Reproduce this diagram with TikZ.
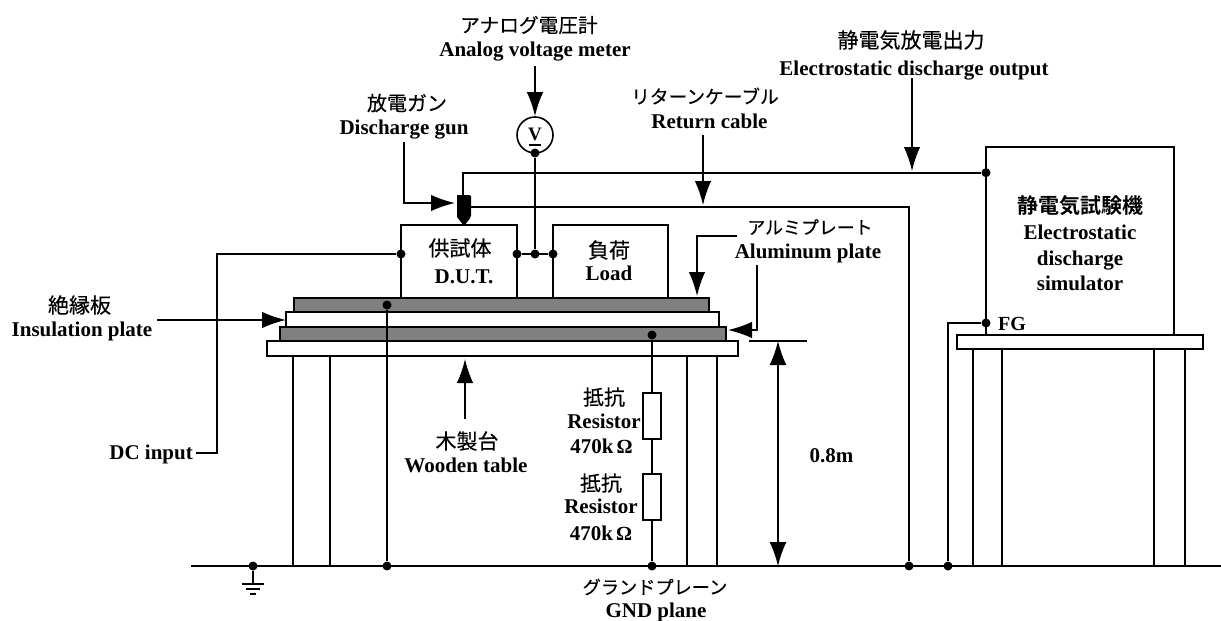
\documentclass[tikz,border=0pt]{standalone}
\usepackage{fontspec}
\setmainfont{Liberation Serif}
\newfontfamily\cjk[FakeBold=0.35]{Noto Sans CJK JP}
\newfontfamily\cjkb{Noto Sans CJK JP Bold}
\usetikzlibrary{arrows.meta,calc}
\tikzset{
  wire/.style={line width=1.6pt},
  leg/.style={line width=1.4pt},
  bighead/.style={-{Latex[length=24pt,width=16.5pt]},line width=1.6pt},
  bothhead/.style={{Latex[length=24pt,width=17pt]}-{Latex[length=24pt,width=17pt]},line width=1.6pt},
  en/.style={font=\bfseries\fontsize{21}{24}\selectfont,anchor=base,inner sep=0pt},
  jpn/.style={font=\cjk\fontsize{#1}{#1}\selectfont,anchor=center,inner sep=0pt},
  dot/.style={circle,fill=black,inner sep=0pt,minimum size=9pt},
  panel/.style={draw,line width=1.6pt,fill=white,anchor=north west,inner sep=0pt,outer sep=0pt},
  gplate/.style={panel,fill=black!50},
  rbox/.style={draw,line width=1.6pt,fill=white,minimum width=18pt,minimum height=46pt,inner sep=0pt},
}
\newcommand{\ohm}{\hspace{3pt}{\fontsize{20}{20}\selectfont Ω}}
\begin{document}
\begin{tikzpicture}[x=1pt,y=-1pt]
\useasboundingbox (0,0) rectangle (1221,621);
% junctions
\node[dot] (dgndA) at (253,566) {};
\node[dot] (dgndB) at (387,566) {};
\node[dot] (dgndC) at (652,566) {};
\node[dot] (dgndD) at (909,566) {};
\node[dot] (dgndE) at (948,566) {};
% ground
\coordinate (gl) at (191,566);
\coordinate (gr) at (1221,566);
\draw[wire] (gl) -- (gr);
\coordinate (gsym) at (253,584);
\draw[wire] (dgndA) -- (gsym);
\draw[wire] ($(gsym)+(-11,0)$) -- ($(gsym)+(11,0)$);
\draw[wire] ($(gsym)+(-7,5)$) -- ($(gsym)+(7,5)$);
\draw[wire] ($(gsym)+(-3,10)$) -- ($(gsym)+(3,10)$);
% boxes
\node[panel,minimum width=116pt,minimum height=73pt] (dut) at (401,225) {};
\node[panel,minimum width=115pt,minimum height=73pt] (load) at (553,225) {};
\node[panel,minimum width=188pt,minimum height=188pt] (sim) at (986,147) {};
% left stack
\node[panel,minimum width=471pt,minimum height=15pt] (tableL) at (267,341) {};
\node[gplate,minimum width=446pt,minimum height=14pt] (plateB) at (280,327) {};
\node[panel,minimum width=433pt,minimum height=15pt] (ins) at (286,312) {};
\node[gplate,minimum width=415pt,minimum height=14pt] (plateA) at (294,298) {};
% right table
\node[panel,minimum width=246pt,minimum height=14pt] (tableR) at (957,335) {};
% legs
\draw[leg] (293,356) -- (293,566) -- (330,566) -- (330,356);
\draw[leg] (687,356) -- (687,566) -- (717,566) -- (717,356);
\draw[leg] (973,349) -- (973,566) -- (1002,566) -- (1002,349);
\draw[leg] (1154,349) -- (1154,566) -- (1185,566) -- (1185,349);
% voltmeter
\node[draw,circle,wire,minimum size=36pt,inner sep=0pt,fill=white] (vm) at (535,135) {};
\node[en,font=\bfseries\fontsize{19}{19}\selectfont] (vlab) at (535,140) {V};
\coordinate (ula) at (529,145);
\coordinate (ulb) at (541,145);
\draw[wire] (ula) -- (ulb);
\node[dot] (vdot) at (535,153) {};
\node[dot] (j1) at (401,254) {};
\node[dot] (j2) at (517,254) {};
\node[dot] (j3) at (535,254) {};
\node[dot] (j4) at (553,254) {};
\draw[wire] (vdot) -- (j3);
\draw[wire] (j2) -- (j4);
% DC input
\node[en,anchor=base east] (dc) at (193,459) {DC input};
\coordinate (dcs) at (196,453);
\coordinate (dcc) at (217,453);
\draw[wire] (dcs) -- (dcc) |- (j1);
% plate leads
\node[dot] (ptop) at (387,305) {};
\draw[wire] (ptop) -- (dgndB);
\node[dot] (pbot) at (652,335) {};
\node[rbox] (r1) at (652,416) {};
\node[rbox] (r2) at (652,497) {};
\draw[wire] (pbot) -- (r1) -- (r2) -- (dgndC);
% gun
\coordinate (gun) at (463,196);
\fill[rounded corners=1.5pt] (457,195) -- (471,195) -- (471,217) [sharp corners] -- (464,226) -- (457,217) -- cycle;
% cables
\node[dot] (simdot) at (986,172.7) {};
\coordinate (cg) at (463,172.7);
\draw[wire] (gun) -- (cg) -- (simdot);
\coordinate (cr) at (471,206.7);
\coordinate (crb) at (909,206.7);
\draw[wire] (cr) -- (crb) -- (dgndD);
\node[dot] (fg) at (986,323) {};
\draw[wire] (fg) -| (dgndE);
\node[en,font=\bfseries\fontsize{20}{20}\selectfont,anchor=base west] (fgl) at (998,330) {FG};
% labels
\node[jpn=19.7] (lv1) at (529,25) {アナログ電圧計};
\node[en] (lv2) at (535,56) {Analog voltage meter};
\node[jpn=21] (les1) at (911,40) {静電気放電出力};
\node[en] (les2) at (914,75) {Electrostatic discharge output};
\node[jpn=20] (lg1) at (407,103) {放電ガン};
\node[en] (lg2) at (404,134) {Discharge gun};
\node[jpn=18.7] (lr1) at (705,96) {リターンケーブル};
\node[en] (lr2) at (709.5,128) {Return cable};
\node[jpn=17.9] (lal1) at (810,227) {アルミプレート};
\node[en] (lal2) at (808,258) {Aluminum plate};
\node[jpn=21] (lin1) at (79.5,305) {絶縁板};
\node[en] (lin2) at (82,336) {Insulation plate};
\node[jpn=21] (lw1) at (467,441) {木製台};
\node[en] (lw2) at (466,472) {Wooden table};
\node[jpn=18.2] (lgn1) at (655,587) {グランドプレーン};
\node[en] (lgn2) at (656,617) {GND plane};
\node[jpn=21] (lra1) at (604,397) {抵抗};
\node[en] (lra2) at (604,428) {Resistor};
\node[en] (lra3) at (601.5,453) {470k\ohm};
\node[jpn=21] (lrb1) at (601,483) {抵抗};
\node[en] (lrb2) at (601,513) {Resistor};
\node[en] (lrb3) at (601,540) {470k\ohm};
\node[en] (l08) at (831.5,462) {0.8m};
\node[jpn=21,font=\cjkb\fontsize{21}{21}\selectfont] (ls1) at (1080,206) {静電気試験機};
\node[en] (ls2) at (1080,239) {Electrostatic};
\node[en] (ls3) at (1080,265) {discharge};
\node[en] (ls4) at (1080,290) {simulator};
\node[jpn=21] (ld1) at (460,248) {供試体};
\node[en] (ld2) at (464,283) {D.U.T.};
\node[jpn=21] (ll1) at (609,250) {負荷};
\node[en] (ll2) at (609,280) {Load};
% arrows
\coordinate (a1) at (535,66);
\draw[bighead] (a1) -- (vm);
\coordinate (a2) at (912,78);
\coordinate (a2t) at (912,171);
\draw[bighead] (a2) -- (a2t);
\coordinate (a3) at (404,142);
\coordinate (a3t) at (455,203);
\draw[bighead] (a3) |- (a3t);
\coordinate (a4) at (703,135);
\coordinate (a4t) at (703,205);
\draw[bighead] (a4) -- (a4t);
\coordinate (a5) at (737,236);
\coordinate (a5t) at (697,296);
\draw[bighead] (a5) -| (a5t);
\coordinate (a6) at (757,265);
\coordinate (a6t) at (728,330);
\draw[bighead] (a6) |- (a6t);
\coordinate (a7) at (157,320);
\coordinate (a7t) at (286,320);
\draw[bighead] (a7) -- (a7t);
\coordinate (a8) at (465,419);
\coordinate (a8t) at (465,359);
\draw[bighead] (a8) -- (a8t);
\coordinate (d1) at (749,341);
\coordinate (d2) at (807,341);
\draw[wire] (d1) -- (d2);
\coordinate (d3) at (778,341);
\coordinate (d4) at (778,566);
\draw[bothhead] (d3) -- (d4);
\end{tikzpicture}
\end{document}
